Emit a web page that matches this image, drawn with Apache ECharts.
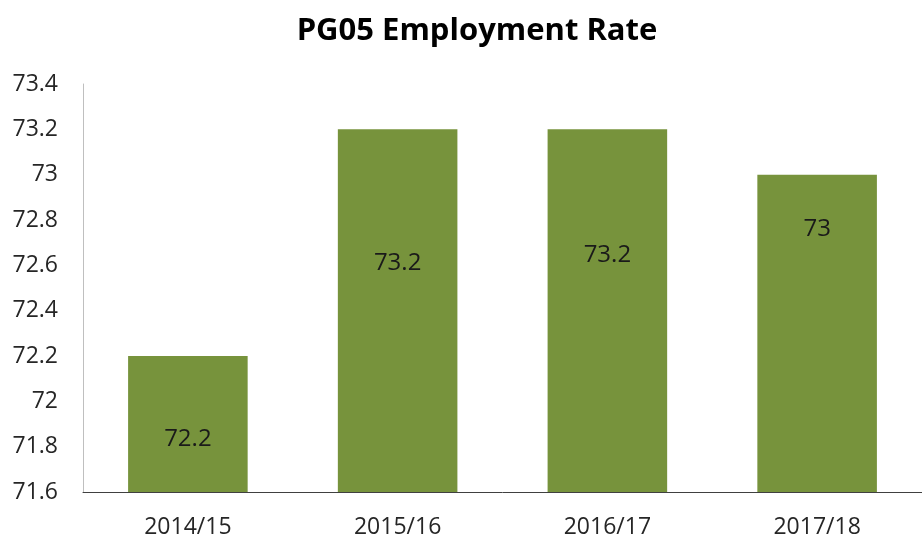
<!DOCTYPE html>
<html>
<head>
<meta charset="utf-8">
<script src="https://cdn.jsdelivr.net/npm/echarts@6/dist/echarts.min.js"></script>
<style>
  html, body { margin: 0; padding: 0; background: #fff; }
  #chart { width: 922px; height: 539px; }
</style>
</head>
<body>
<div id="chart"></div>
<script>
const categories = ["2014/15", "2015/16", "2016/17", "2017/18"];
const rates = [72.2, 73.2, 73.2, 73];
// label distance from bar top, as placed in the original
const labelDist = [71, 122, 114, 42];

const chart = echarts.init(document.getElementById("chart"));
chart.setOption({
  animation: false,
  title: {
    text: "PG05 Employment Rate",
    left: 472,
    top: 11,
    textAlign: "center",
    textStyle: { fontFamily: "Open Sans", fontWeight: "bold", fontSize: 31, color: "#000" },
  },
  grid: { left: 83, right: -5, top: 84, bottom: 46 },
  xAxis: {
    type: "category",
    data: categories,
    axisLine: { lineStyle: { color: "#404040", width: 1 } },
    axisTick: { show: false },
    axisLabel: { margin: 24, fontFamily: "Open Sans", fontSize: 23, color: "#262626" },
  },
  yAxis: {
    type: "value",
    min: 71.6,
    max: 73.4,
    interval: 0.2,
    axisLine: { show: true, lineStyle: { color: "#bfbfbf", width: 1 } },
    axisTick: { show: false },
    splitLine: { show: false },
    axisLabel: { margin: 25, fontFamily: "Open Sans", fontSize: 23, color: "#262626" },
  },
  series: [
    {
      type: "bar",
      barWidth: "57%",
      data: rates.map((v, i) => ({
        value: v,
        label: { distance: labelDist[i] },
      })),
      itemStyle: { color: "#77933c" },
      label: {
        show: true,
        position: "insideTop",
        fontFamily: "Open Sans",
        fontSize: 24,
        color: "#1a1a1a",
      },
    },
  ],
});
</script>
</body>
</html>
